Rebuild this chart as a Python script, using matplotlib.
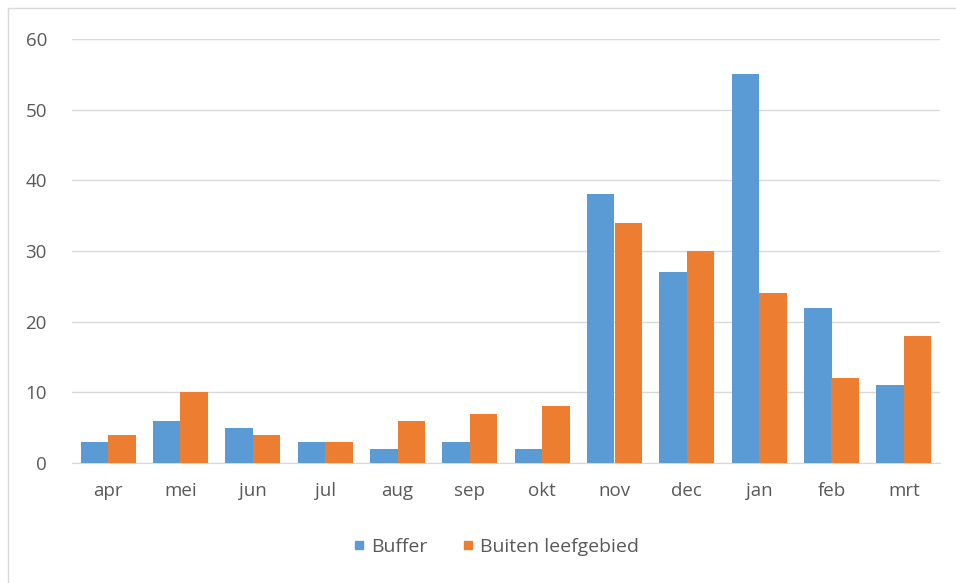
import numpy as np
from matplotlib import pyplot as plt
from matplotlib.lines import Line2D

months = ['apr', 'mei', 'jun', 'jul', 'aug', 'sep', 'okt', 'nov', 'dec', 'jan', 'feb', 'mrt']
buffer_vals = [3, 6, 5, 3, 2, 3, 2, 38, 27, 55, 22, 11]
buiten_vals = [4, 10, 4, 3, 6, 7, 8, 34, 30, 24, 12, 18]

plt.rcParams['font.family'] = ['Open Sans', 'DejaVu Sans']

blue = '#5B9BD5'
orange = '#ED7D31'
grey = '#595959'

fig = plt.figure(figsize=(9.56, 5.83), dpi=100)
ax = fig.add_axes([72 / 956, 120 / 583, 868 / 956, 424 / 583])

x = np.arange(len(months))
w = 0.38
ax.bar(x - w / 2, buffer_vals, w, color=blue, label='Buffer', zorder=3)
ax.bar(x + w / 2, buiten_vals, w, color=orange, label='Buiten leefgebied', zorder=3)

ax.set_xlim(-0.5, len(months) - 0.5)
ax.set_ylim(0, 60)
ax.set_yticks(range(0, 61, 10))
ax.set_xticks(x)
ax.set_xticklabels(months)
ax.grid(axis='y', color='#D9D9D9', linewidth=1, zorder=0)
for s in ['top', 'right', 'left']:
    ax.spines[s].set_visible(False)
ax.spines['bottom'].set_color('#D9D9D9')
ax.tick_params(axis='both', length=0, labelsize=13.5, labelcolor=grey)
ax.tick_params(axis='y', pad=18)
ax.tick_params(axis='x', pad=14)

handles = [Line2D([], [], marker='s', linestyle='', markersize=6, color=blue),
           Line2D([], [], marker='s', linestyle='', markersize=6, color=orange)]
fig.legend(handles, ['Buffer', 'Buiten leefgebied'], loc='center',
           bbox_to_anchor=(494 / 956, 1 - 547 / 583), ncol=2, frameon=False,
           fontsize=14, labelcolor=grey, handlelength=1.0, handletextpad=0.1,
           columnspacing=1.6)

# chart border (top and left visible)
fig.add_artist(Line2D([8 / 956, 8 / 956], [0, 1 - 8 / 583], color='#D9D9D9', lw=1))
fig.add_artist(Line2D([8 / 956, 1], [1 - 8 / 583, 1 - 8 / 583], color='#D9D9D9', lw=1))

fig.savefig('out.png', dpi=100)
